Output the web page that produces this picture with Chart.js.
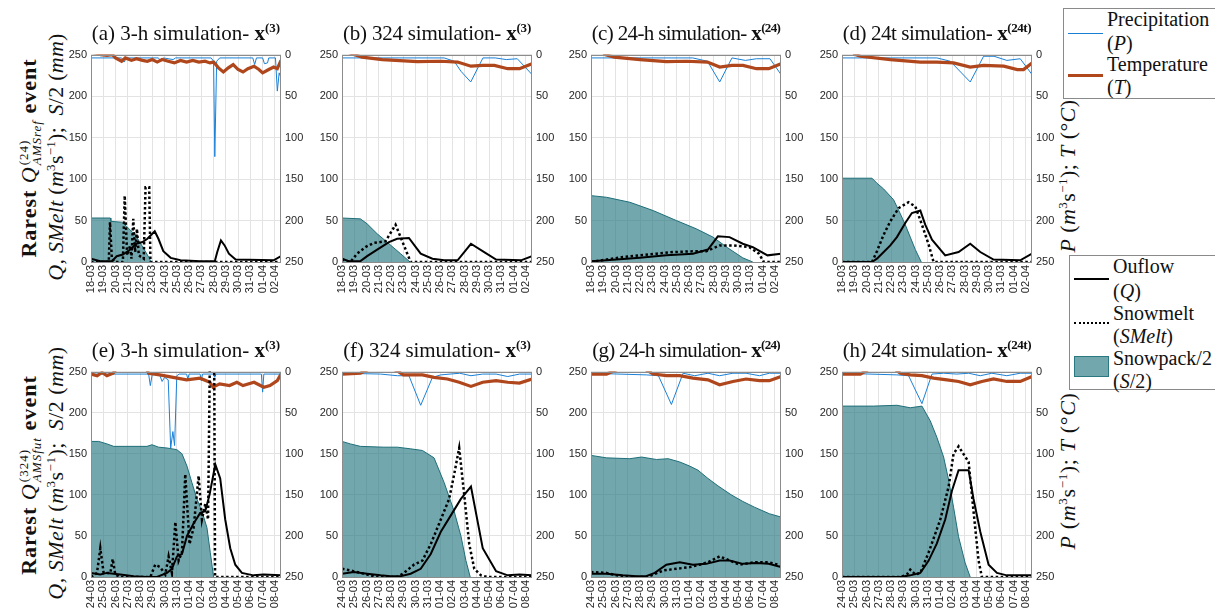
<!DOCTYPE html>
<html>
<head>
<meta charset="utf-8">
<script src="https://cdn.jsdelivr.net/npm/chart.js@4"></script>
<style>
body{margin:0;background:#fff;width:1215px;height:613px;position:relative;overflow:hidden;font-family:'Liberation Serif',serif;color:#111}
.box{position:absolute}
.ttl{position:absolute;font-size:21px;white-space:nowrap;transform:translate(-50%,-50%)}
.ttl b sup{font-size:13px}
.rot{position:absolute;white-space:nowrap;transform:translate(-50%,-50%) rotate(-90deg);font-size:22px}
.rot sup{font-size:13px}
.ss{display:inline-block;vertical-align:-0.35em;line-height:1;font-size:13px;margin-left:1px}
.ss span{display:block}
.leg{position:absolute;border:1px solid #8a8a8a;background:#fff}
.leg .t{position:absolute;font-size:20px;white-space:nowrap;line-height:1;transform:translateY(-50%)}
.leg .s{position:absolute}
</style>
</head>
<body>

<!-- row labels (data-w = wanted length in px) -->
<div class="rot fit" data-w="203" style="left:29px;top:158px"><b>Rarest</b> <i>Q</i><span class="ss"><span>(24)</span><span><i>AMSref</i></span></span> <b>event</b></div>
<div class="rot fit" data-w="247" style="left:56px;top:157px"><i>Q, SMelt</i> (<i>m</i><sup>3</sup>s<sup>−1</sup>);&nbsp; <i>S</i>/2 (<i>mm</i>)</div>
<div class="rot fit" data-w="205" style="left:29px;top:475px"><b>Rarest</b> <i>Q</i><span class="ss"><span>(324)</span><span><i>AMSfut</i></span></span> <b>event</b></div>
<div class="rot fit" data-w="253" style="left:56px;top:473px"><i>Q, SMelt</i> (<i>m</i><sup>3</sup>s<sup>−1</sup>);&nbsp; <i>S</i>/2 (<i>mm</i>)</div>
<div class="rot fit" data-w="153" style="left:1068px;top:176px"><i>P</i> (<i>m</i><sup>3</sup>s<sup>−1</sup>); <i>T</i> (°<i>C</i>)</div>
<div class="rot fit" data-w="157" style="left:1068px;top:471px"><i>P</i> (<i>m</i><sup>3</sup>s<sup>−1</sup>); <i>T</i> (°<i>C</i>)</div>

<!-- legends -->
<div class="leg" style="left:1063px;top:8px;width:170px;height:89px">
  <div class="s" style="left:4px;top:24px;width:35px;border-top:1px solid #1a80d6"></div>
  <div class="t" style="left:43px;top:10px">Precipitation</div>
  <div class="t" style="left:43px;top:34px">(<i>P</i>)</div>
  <div class="s" style="left:4px;top:65px;width:35px;border-top:3px solid #b0461b"></div>
  <div class="t" style="left:43px;top:55px">Temperature</div>
  <div class="t" style="left:43px;top:78px">(<i>T</i>)</div>
</div>
<div class="leg" style="left:1069px;top:255px;width:170px;height:133px">
  <div class="s" style="left:4px;top:22px;width:35px;border-top:2px solid #000"></div>
  <div class="t" style="left:43px;top:10px">Ouflow</div>
  <div class="t" style="left:43px;top:35px">(<i>Q</i>)</div>
  <div class="s" style="left:4px;top:66px;width:35px;border-top:2.5px dotted #000"></div>
  <div class="t" style="left:43px;top:57px">Snowmelt</div>
  <div class="t" style="left:43px;top:80px">(<i>SMelt</i>)</div>
  <div class="s" style="left:4px;top:100px;width:35px;height:21px;background:#73a7ae;border:1px solid #2a7880;box-sizing:border-box"></div>
  <div class="t" style="left:43px;top:102px">Snowpack/2</div>
  <div class="t" style="left:43px;top:125px">(<i>S</i>/2)</div>
</div>

<script>
// tick labels (day-month)
const topDays = ['18-03','19-03','20-03','21-03','22-03','23-03','24-03','25-03','26-03','27-03','28-03','29-03','30-03','31-03','01-04','02-04']
const botDays = ['24-03','25-03','26-03','27-03','28-03','29-03','30-03','31-03','01-04','02-04','03-04','04-04','05-04','06-04','07-04','08-04']
const leftTicks = [0, 50, 100, 150, 200, 250]

// each series: [day, value]; S/M/Q on left axis, P/T on reversed right axis
// (a) 3-h simulation
const aS = [[0,53],[1.58,53],[1.62,49],[2.5,48],[2.9,43],[3.5,34],[3.9,26],[4.3,16],[4.7,6],[4.9,0]]
const aM = [[0,0],[1.45,0],[1.55,48],[1.7,4],[1.9,0],[2.6,0],[2.75,80],[2.95,8],[3.2,20],[3.3,4],[3.45,52],[3.6,12],[3.75,40],[3.9,8],[4.3,4],[4.45,90],[4.75,90],[4.85,0],[15.5,0]]
const aQ = [[0,4],[0.75,1],[1.7,1],[2.1,7],[2.6,9],[3.2,15],[3.7,22],[4.2,24],[4.6,28],[5.2,37],[5.5,28],[5.9,13],[6.5,5],[7.3,2],[8.9,1],[10.1,1],[10.3,12],[10.6,26],[10.9,20],[11.25,10],[11.8,3],[14.9,2],[15.5,7]]
const aP = [[0,4],[2.5,4],[2.7,9],[2.9,4],[5.5,4],[5.7,8],[5.9,4],[6.7,6],[6.9,4],[9.8,4],[10.0,8],[10.1,123],[10.25,8],[10.5,4],[13.2,4],[13.35,12],[13.5,4],[14.0,4],[14.15,11],[14.4,10],[14.5,4],[15.05,4],[15.2,44],[15.35,22],[15.5,28]]
const aT = [[0,-3],[0.7,-1],[0.8,0],[1.3,1],[1.75,0],[2.0,4],[2.5,8],[2.8,4],[3.3,7],[3.7,5],[4.2,7],[4.6,8],[5.0,6],[5.4,9],[5.8,6],[6.3,8],[6.8,10],[7.3,7],[7.8,9],[8.3,7],[8.8,9],[9.3,8],[9.7,10],[10.0,9],[10.4,16],[10.8,21],[11.2,16],[11.6,12],[12.0,18],[12.4,21],[12.8,17],[13.3,14],[13.7,18],[14.0,22],[14.5,18],[14.9,15],[15.2,17],[15.5,7]]
// (b) 324 simulation
const bS = [[0,53],[1.5,52],[2.05,46],[2.87,34],[3.83,22],[4.78,10],[5.55,0]]
const bM = [[0,3],[0.68,0],[1.23,10],[1.91,18],[2.6,23],[3.55,25],[4.37,45],[5.6,0],[15.5,0]]
const bQ = [[0,4],[0.55,1],[1.5,1],[2.05,7],[2.87,15],[3.83,24],[4.5,28],[5.46,29],[6.42,10],[7.38,4],[8.33,2],[9.43,2],[10.52,22],[11.6,12],[12.57,3],[14.6,2],[15.5,7]]
const bP = [[0,4],[8.33,4],[9.15,8],[9.7,20],[10.5,33],[11.5,4],[12.5,4],[13.4,6],[14.3,5],[15.5,24]]
const bT = [[0.5,-3],[0.96,0],[1.64,3],[3.28,6],[6.15,8.5],[8.06,8],[9.43,9],[10.52,14],[11.48,13],[12.43,13],[13.52,17],[14.48,17],[15.5,11]]
// (c) 24-h simulation
const cS = [[0,80],[1.27,78],[3.17,72],[5.07,62],[6.96,50],[8.59,40],[9.95,30],[11.16,17],[12.38,5],[13.2,0]]
const cM = [[0,0],[1.27,3],[2.6,6],[3.94,8],[5.34,10],[6.7,12],[8.59,13],[9.4,13],[10.5,20],[11.6,20],[12.9,18],[13.7,10],[14.1,0],[15.5,0]]
const cQ = [[0,1],[1.27,2],[3.98,5],[6.15,8],[8.32,10],[9.54,15],[10.35,31],[11.3,30],[12.38,22],[13.2,18],[14.4,8],[15.5,10]]
const cP = [[0,4],[8.3,4],[9.5,8],[10.5,33],[11.5,4],[12.6,7],[13.5,5],[14.6,5],[15.5,24]]
const cT = [[1.0,-3],[1.14,0],[1.9,3],[4.0,6],[6.15,8.5],[7.8,8],[9.5,9],[10.5,15],[11.5,13],[12.4,13],[13.5,17],[14.5,17],[15.5,11]]
// (d) 24t simulation
const dS = [[0,101],[2.45,101],[2.85,95],[3.4,88],[4.21,75],[4.76,58],[5.16,45],[5.57,30],[5.98,15],[6.47,0]]
const dM = [[0,0],[2.45,0],[2.85,13],[3.4,33],[3.94,49],[4.62,65],[5.43,72],[5.98,67],[6.52,45],[7.07,21],[7.47,0],[15.5,0]]
const dQ = [[0,0],[2.45,0],[2.85,4],[3.26,10],[3.94,20],[4.48,30],[5.16,47],[5.7,59],[6.39,62],[6.79,45],[7.34,27],[8.42,8],[9.51,12],[10.46,22],[11.28,12],[12.36,3],[14.54,2],[15.5,10]]
const dP = [[0,4],[7.74,4],[8.83,8],[10.46,33],[11.55,2],[12.4,2],[13.45,7],[14.54,5],[15.5,24]]
const dT = [[0.9,-3],[1.09,0],[1.5,2],[3.94,6],[6.39,9],[7.74,9],[9.1,10],[10.46,15],[11.55,13],[13.2,14],[14.3,18],[14.81,18],[15.5,10]]
// (e) 3-h simulation
const eS = [[0,165],[0.63,165],[1.3,162],[1.85,159],[4.57,159],[4.97,161],[5.52,158],[6.2,157],[7.0,155],[7.42,150],[7.83,135],[8.23,115],[8.64,95],[9.05,80],[9.46,60],[9.73,30],[10.0,0]]
const eM = [[0,0],[0.49,5],[0.76,35],[1.03,5],[1.58,5],[1.77,22],[1.98,3],[2.39,0],[4.84,0],[5.24,15],[5.65,12],[6.06,3],[6.33,25],[6.6,5],[6.88,67],[7.15,20],[7.42,30],[7.69,125],[8.04,40],[8.37,60],[8.78,123],[9.05,70],[9.32,89],[9.55,70],[9.7,270],[10.05,270],[10.12,0],[15.5,0]]
const eQ = [[0,5],[0.76,3],[1.3,5],[2.39,3],[3.48,1],[4.57,0],[5.38,0],[6.2,5],[6.6,10],[7.01,25],[7.42,28],[7.83,50],[8.37,65],[8.91,78],[9.32,80],[9.67,100],[10.14,137],[10.54,120],[10.95,70],[11.36,35],[11.77,15],[12.31,5],[13.26,2],[14.08,3],[15.5,2]]
const eP = [[0,3],[4.7,3],[4.84,17],[5.0,3],[5.6,4],[5.8,12],[6.0,7],[6.3,10],[6.5,93],[6.68,73],[6.82,90],[7.0,5],[7.2,3],[7.8,3],[7.9,9],[8.0,3],[8.9,3],[9.0,11],[9.1,3],[10.0,3],[10.1,7],[10.2,3],[13.9,3],[14.0,25],[14.1,3],[15.5,3]]
const eT = [[0,3],[0.5,5],[0.9,1],[1.3,5],[1.8,2],[2.1,-4],[4.5,-4],[4.7,2],[5.6,4],[6.7,7],[7.8,10],[8.9,8],[9.7,13],[9.95,19],[10.5,15],[11.3,17],[11.9,13],[12.4,17],[13.3,13],[14.1,19],[14.6,17],[15.2,11],[15.5,3]]
// (f) 324 simulation
const fS = [[0,165],[0.68,162],[1.5,159],[3.42,158],[4.51,158],[5.6,156],[6.56,154],[7.51,145],[8.33,115],[9.15,80],[9.7,50],[10.11,20],[10.46,0]]
const fM = [[0,10],[0.68,8],[2.05,3],[2.87,0],[4.51,0],[5.05,5],[5.87,15],[6.56,20],[7.24,40],[8.06,70],[8.74,95],[9.15,125],[9.56,157],[9.97,100],[10.38,40],[10.79,10],[11.34,2],[11.89,0],[15.5,0]]
const fQ = [[0,4],[0.96,6],[2.05,4],[3.14,2],[3.96,1],[4.78,1],[5.6,4],[6.42,10],[7.24,28],[8.06,55],[8.88,75],[9.7,95],[10.52,110],[11.48,35],[12.57,7],[13.52,2],[14.48,3],[15.5,2]]
const fP = [[0,2],[3.14,3],[4.51,5],[5.46,5],[6.42,41],[7.38,7],[8.06,4],[9.6,2],[10.52,5],[11.48,3],[12.57,3],[13.52,6],[14.48,3],[15.5,3]]
const fT = [[0,3],[1.5,2],[2.2,-3],[4.2,-3],[4.6,0],[5.0,4],[6.56,4],[7.51,7],[8.6,9],[9.56,13],[10.52,18],[11.48,13],[12.57,11],[13.52,13],[14.48,14],[15.5,9]]
// (g) 24-h simulation
const gS = [[0,148],[1.27,145],[3.17,144],[4.12,146],[5.34,143],[6.29,144],[7.24,140],[8.05,135],[8.73,130],[9.54,120],[10.35,111],[11.44,100],[12.38,92],[13.33,85],[14.55,77],[15.5,73]]
const gM = [[0,6],[1.27,5],[2.1,2],[2.9,0],[4.6,0],[5.1,3],[5.9,8],[6.96,10],[8.05,12],[8.86,15],[9.54,18],[10.49,25],[11.0,22],[12.1,15],[13.4,18],[14.5,18],[15.5,14]]
const gQ = [[0,4],[1.27,4],[2.6,2],[3.7,1],[4.5,1],[5.2,5],[6.15,15],[7.24,18],[8.32,15],[9.4,16],[10.5,20],[11.3,20],[12.4,16],[13.5,17],[14.5,16],[15.5,12]]
const gP = [[0,2],[4.5,4],[5.5,5],[6.56,40],[7.51,2],[8.46,5],[9.54,2],[10.49,5],[11.58,2],[12.65,2],[13.74,5],[14.55,2],[15.5,2]]
const gT = [[0,3],[1.27,3],[2.2,-3],[4.4,-3],[5.07,3],[6.15,5],[7.24,5],[8.32,8],[9.54,10],[10.49,16],[11.58,12],[12.65,9],[13.74,11],[14.55,11],[15.5,6]]
// (h) 24t simulation
const hS = [[0,208],[2.58,208],[4.48,209],[5.57,206],[6.52,208],[7.2,190],[7.74,170],[8.29,146],[8.7,118],[9.1,85],[9.51,49],[10.05,17],[10.46,0]]
const hM = [[0,0],[4.76,0],[5.3,3],[5.57,9],[5.98,3],[6.39,5],[7.07,30],[8.02,70],[8.7,110],[9.1,150],[9.51,159],[10.33,140],[10.73,80],[11.14,20],[11.41,0],[15.5,0]]
const hQ = [[0,0],[4.76,0],[5.57,2],[6.39,5],[7.07,20],[7.74,41],[8.42,70],[8.97,105],[9.51,130],[10.33,130],[10.73,95],[11.28,55],[11.96,15],[12.64,5],[13.45,2],[15.5,2]]
const hP = [[0,2],[4.48,4],[5.43,5],[6.52,39],[7.34,3],[8.29,2],[9.37,3],[10.33,2],[11.28,5],[12.23,2],[13.45,5],[14.54,2],[15.5,2]]
const hT = [[0,3],[1.5,3],[2.2,-3],[4.3,-3],[4.76,2],[5.57,4],[6.52,5],[7.47,8],[8.56,10],[9.51,12],[10.46,16],[11.41,12],[12.36,9],[13.45,12],[14.54,12],[15.5,6]]

const titles = ['(a) 3-h simulation- ','(b) 324 simulation- ','(c) 24-h simulation- ','(d) 24t simulation- ',
                '(e) 3-h simulation- ','(f) 324 simulation- ','(g) 24-h simulation- ','(h) 24t simulation- ']
const supers = ['(3)','(3)','(24)','(24t)','(3)','(3)','(24)','(24t)']

// layout of the plot boxes
const colLeft = [91, 342, 591, 842]
const rowTop = [52, 369]
const rowH = [210, 208]
const plotW = 190
const AXW = 36, PADT = 8, AXH = 44

// spread text so it covers the wanted length (the reference font is wider)
function fit(el, want){
    const n = el.textContent.length
    const w = el.offsetWidth
    if(n > 1 && want) el.style.letterSpacing = ((want - w) / n).toFixed(2) + 'px'
}

/*===== FRAME ROUND PLOT AREA =====*/
const frame = {
    id: 'frame',
    afterDraw(c){
        const a = c.chartArea, g = c.ctx
        g.save()
        g.strokeStyle = '#8c8c8c'
        g.lineWidth = 1
        g.strokeRect(Math.round(a.left)+0.5, Math.round(a.top)+0.5, Math.round(a.width)-1, Math.round(a.height))
        g.restore()
    }
}

const pts = arr => arr.map(([x, y]) => ({x, y}))
const tickFont = {family: "'Liberation Sans', Arial, sans-serif", size: 11}

function makePanel(i, S, M, Q, P, T){
    const row = i < 4 ? 0 : 1, col = i % 4
    const left = colLeft[col], top = rowTop[row], h = rowH[row]
    const days = row === 0 ? topDays : botDays

    const wrap = document.createElement('div')
    wrap.className = 'box'
    wrap.style.left = (left - AXW) + 'px'
    wrap.style.top = (top - PADT) + 'px'
    const cv = document.createElement('canvas')
    cv.width = plotW + 2*AXW
    cv.height = h + PADT + AXH
    wrap.appendChild(cv)
    document.body.appendChild(wrap)

    const t = document.createElement('div')
    t.className = 'ttl'
    t.style.left = (left + plotW/2) + 'px'
    t.style.top = (top - 19) + 'px'
    t.innerHTML = titles[i] + '<b>x<sup>' + supers[i] + '</sup></b>'
    document.body.appendChild(t)
    fit(t, 188)

    new Chart(cv.getContext('2d'), {
        type: 'line',
        data: {
            datasets: [
                {label:'Q', data: pts(Q), yAxisID:'y', borderColor:'#000', borderWidth:2, pointRadius:0, fill:false, tension:0},
                {label:'SMelt', data: pts(M), yAxisID:'y', borderColor:'#000', borderWidth:2.5, borderDash:[2.5,2.5], pointRadius:0, fill:false},
                {label:'T', data: pts(T), yAxisID:'y1', borderColor:'#b0461b', borderWidth:3.2, pointRadius:0, fill:false},
                {label:'P', data: pts(P), yAxisID:'y1', borderColor:'#1a80d6', borderWidth:1, pointRadius:0, fill:false},
                {label:'S', data: pts(S), yAxisID:'y', borderColor:'#1f6f78', borderWidth:1, backgroundColor:'rgba(40,120,130,0.65)', fill:'origin', pointRadius:0}
            ]
        },
        options: {
            responsive: false,
            animation: false,
            layout: {padding: {top: PADT, left: 0, right: 0, bottom: 0}},
            plugins: {legend: {display: false}, tooltip: {enabled: false}},
            scales: {
                x: {
                    type: 'linear', min: 0, max: 15.5,
                    afterFit: s => { s.height = AXH },
                    border: {display: false},
                    grid: {color: '#e3e3e3', drawTicks: false},
                    ticks: {
                        stepSize: 1, autoSkip: false, includeBounds: false,
                        minRotation: 90, maxRotation: 90, padding: 3,
                        font: tickFont, color: '#262626',
                        callback: v => days[v] ?? ''
                    }
                },
                y: {
                    position: 'left', min: 0, max: 250,
                    afterFit: s => { s.width = AXW },
                    border: {display: false},
                    grid: {color: '#e3e3e3', drawTicks: false},
                    afterBuildTicks: s => { s.ticks = leftTicks.map(v => ({value: v})) },
                    ticks: {padding: 4, font: tickFont, color: '#262626'}
                },
                y1: {
                    position: 'right', min: 0, max: 250, reverse: true,
                    afterFit: s => { s.width = AXW },
                    border: {display: false},
                    grid: {display: false, drawTicks: false},
                    afterBuildTicks: s => { s.ticks = leftTicks.map(v => ({value: v})) },
                    ticks: {padding: 4, font: tickFont, color: '#262626'}
                }
            }
        },
        plugins: [frame]
    })
}

makePanel(0, aS, aM, aQ, aP, aT)
makePanel(1, bS, bM, bQ, bP, bT)
makePanel(2, cS, cM, cQ, cP, cT)
makePanel(3, dS, dM, dQ, dP, dT)
makePanel(4, eS, eM, eQ, eP, eT)
makePanel(5, fS, fM, fQ, fP, fT)
makePanel(6, gS, gM, gQ, gP, gT)
makePanel(7, hS, hM, hQ, hP, hT)

document.querySelectorAll('.fit').forEach(el => fit(el, +el.dataset.w))
</script>
</body>
</html>
